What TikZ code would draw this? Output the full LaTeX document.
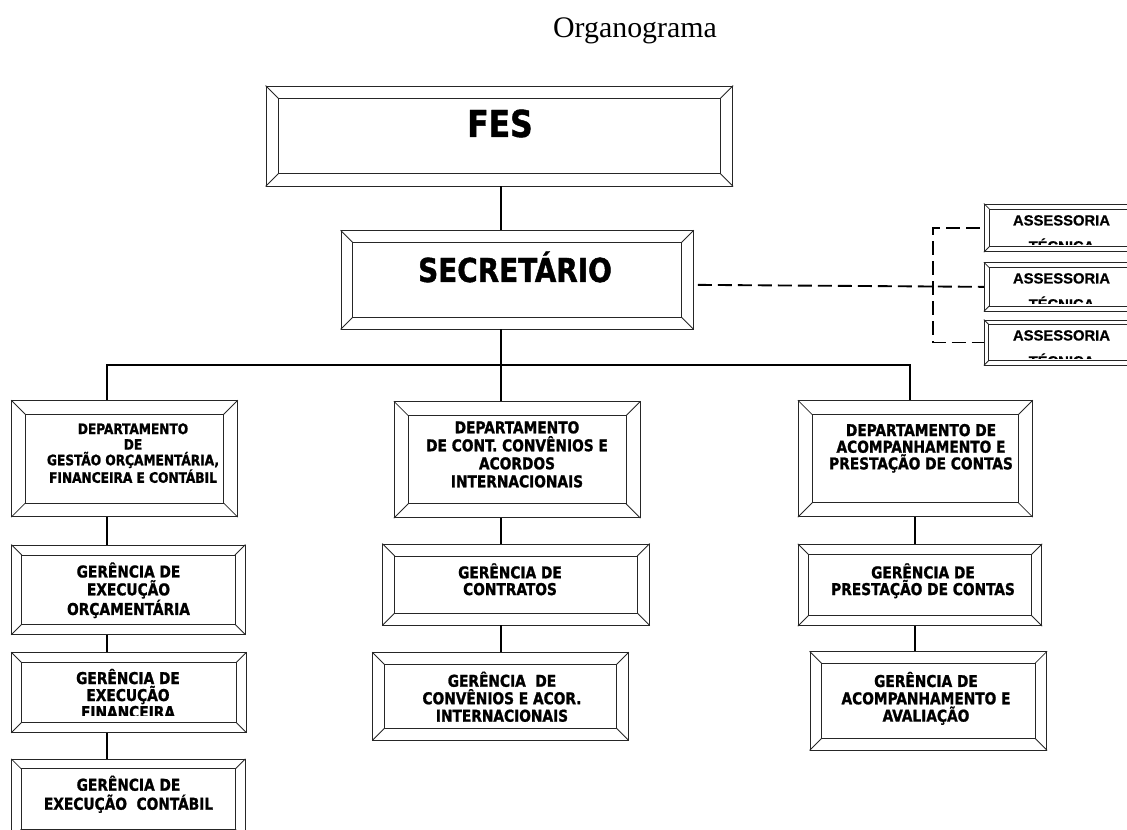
\documentclass[tikz,border=0pt]{standalone}
\usepackage{fontspec}
\newfontfamily\tahf{DejaVu Sans Condensed}[FakeStretch=0.94, BoldFeatures={FakeBold=1.2}]
\newfontfamily\arlf{Liberation Sans}[BoldFeatures={FakeBold=0.6}]
\newfontfamily\tmsf{Liberation Serif}
\usetikzlibrary{fit,calc}
\newcommand\rtop{\rule{0pt}{1.5em}}
\newcommand\rbot{\rule[-1.5em]{0pt}{1.5em}}
\newcommand\bevbox[6]{%
  \node[outerbox, fit={(#2,#3) (#4,#5)}] (#1) {};
  \draw[innerline] ($(#1.north west)+(#6,#6)$) rectangle ($(#1.south east)+(-#6,-#6)$);
  \draw[innerline] (#1.north west) -- ++(#6,#6)
                   (#1.north east) -- ++(-#6,#6)
                   (#1.south west) -- ++(#6,-#6)
                   (#1.south east) -- ++(-#6,-#6);
}
\tikzset{
  outerbox/.style={draw=black!85, line width=0.7pt, inner sep=0pt},
  innerline/.style={draw=black!85, line width=0.6pt},
  conn/.style={draw=black, line width=1.3pt},
  dconn/.style={draw=black, line width=1.4pt, dash pattern=on 10.5pt off 4.5pt, dash phase=-3pt},
  lbl/.style={inner sep=0pt, align=center, text=black},
  tbig/.style={lbl, font=\tahf\bfseries\fontsize{27.8pt}{30pt}\selectfont},
  tsec/.style={lbl, font=\tahf\bfseries\fontsize{24.7pt}{28pt}\selectfont},
  tsmall/.style={lbl, font=\tahf\bfseries\fontsize{10.8pt}{#1}\selectfont},
  tg/.style={lbl, font=\tahf\bfseries\fontsize{12.2pt}{#1}\selectfont},
  tas/.style={lbl, font=\arlf\bfseries\fontsize{11.1pt}{19.5pt}\selectfont},
  ttitle/.style={lbl, font=\tmsf\fontsize{22.4pt}{26pt}\selectfont},
}
\begin{document}
\begin{tikzpicture}[x=0.75pt,y=-0.75pt]
\useasboundingbox (0,0) rectangle (1127,830);
\clip (0,0) rectangle (1127,830);

% title
\node[ttitle] (title) at (635,37.5) {\rtop Organograma\rbot};

% boxes
\bevbox{fes}{266}{86}{732.7}{186}{13}
\bevbox{sec}{341}{230.7}{693.3}{329}{12}
\bevbox{a1}{984.3}{204}{1135}{251.7}{5.5}
\bevbox{a2}{984.3}{262.7}{1135}{311}{5.5}
\bevbox{a3}{984.3}{320}{1135}{365}{5}
\bevbox{d1}{11.7}{400.7}{237.3}{516.7}{14}
\bevbox{g1}{11.7}{545}{245}{634.3}{10.5}
\bevbox{g2}{11.7}{652.7}{246}{732.3}{10}
\bevbox{g3}{11.7}{759.3}{245}{839}{10}
\bevbox{d2}{394.3}{401.7}{640}{517.7}{14.5}
\bevbox{g21}{382.7}{544}{649.3}{625}{12.5}
\bevbox{g22}{372.7}{652.7}{628.3}{740}{12.5}
\bevbox{d3}{798.3}{400.7}{1032.3}{516.7}{14.5}
\bevbox{g31}{798.3}{544.3}{1041.7}{625.7}{10.5}
\bevbox{g32}{810}{651.7}{1046.7}{750}{12}

% texts
\node[tbig] (fest) at (500,137) {\rtop FES\rbot};
\node[tsec] (sect) at (515,282) {\rtop SECRETÁRIO\rbot};
\node[tsmall=11.7pt] (d1t) at (133,458.4) {\rtop DEPARTAMENTO\\DE\\GESTÃO ORÇAMENTÁRIA,\\FINANCEIRA E CONTÁBIL\rbot};
\node[tg=13.5pt] (d2t) at (517,460.3) {\rtop DEPARTAMENTO\\DE CONT. CONVÊNIOS E\\ACORDOS\\INTERNACIONAIS\rbot};
\node[tg=12.5pt] (d3t) at (921,452.7) {\rtop DEPARTAMENTO DE\\ACOMPANHAMENTO E\\PRESTAÇÃO DE CONTAS\rbot};
\node[tg=13.4pt] (g1t) at (128.5,596.2) {\rtop GERÊNCIA DE\\EXECUÇÃO\\ORÇAMENTÁRIA\rbot};
\begin{scope}
  \clip ($(g2.north west)+(10,10)$) rectangle ($(g2.south east)+(-10,-17)$);
  \node[tg=12.75pt] (g2t) at (128,701) {\rtop GERÊNCIA DE\\EXECUÇÃO\\FINANCEIRA\rbot};
\end{scope}
\node[tg=14.25pt] (g3t) at (128.5,800.2) {\rtop GERÊNCIA DE\\EXECUÇÃO~~CONTÁBIL\rbot};
\node[tg=12.5pt] (g21t) at (510,586.7) {\rtop GERÊNCIA DE\\CONTRATOS\rbot};
\node[tg=13.1pt] (g22t) at (502,704.2) {\rtop GERÊNCIA~~DE\\CONVÊNIOS E ACOR.\\INTERNACIONAIS\rbot};
\node[tg=12.5pt] (g31t) at (923,586.7) {\rtop GERÊNCIA DE\\PRESTAÇÃO DE CONTAS\rbot};
\node[tg=13pt] (g32t) at (926,704.3) {\rtop GERÊNCIA DE\\ACOMPANHAMENTO E\\AVALIAÇÃO\rbot};
\begin{scope}
  \clip ($(a1.north west)+(5.5,5.5)$) rectangle ($(a1.south east)+(-5.5,-7.5)$);
  \node[tas] (a1t) at (1061.5,238.5) {\rtop ASSESSORIA\\TÉCNICA\rbot};
\end{scope}
\begin{scope}
  \clip ($(a2.north west)+(5.5,5.5)$) rectangle ($(a2.south east)+(-5.5,-7.5)$);
  \node[tas] (a2t) at (1061.5,296.5) {\rtop ASSESSORIA\\TÉCNICA\rbot};
\end{scope}
\begin{scope}
  \clip ($(a3.north west)+(5,5)$) rectangle ($(a3.south east)+(-5,-7)$);
  \node[tas] (a3t) at (1061.5,353.5) {\rtop ASSESSORIA\\TÉCNICA\rbot};
\end{scope}

% connectors
\coordinate (c1) at (107,365);
\coordinate (c2) at (500.7,365);
\coordinate (c3) at (910,365);
\coordinate (c4) at (915,365);
\draw[conn] (fes.south -| c2) -- (c2 |- sec.north);
\draw[conn] (c2 |- sec.south) -- (c2);
\draw[conn] (c1 |- d1.north) -- (c1) -- (c3) -- (c3 |- d3.north);
\draw[conn] (c2) -- (c2 |- d2.north);
\draw[conn] (c1 |- d1.south) -- (c1 |- g1.north);
\draw[conn] (c1 |- g1.south) -- (c1 |- g2.north);
\draw[conn] (c1 |- g2.south) -- (c1 |- g3.north);
\draw[conn] (c2 |- d2.south) -- (c2 |- g21.north);
\draw[conn] (c2 |- g21.south) -- (c2 |- g22.north);
\draw[conn] (c4 |- d3.south) -- (c4 |- g31.north);
\draw[conn] (c4 |- g31.south) -- (c4 |- g32.north);

% dashed staff links
\coordinate (vd) at (933,285);
\draw[dconn] ($(sec.east)+(0,5)$) -- (a2.west);
\draw[dconn] (a1.west) -| (vd) |- (a3.west);
\end{tikzpicture}
\end{document}
